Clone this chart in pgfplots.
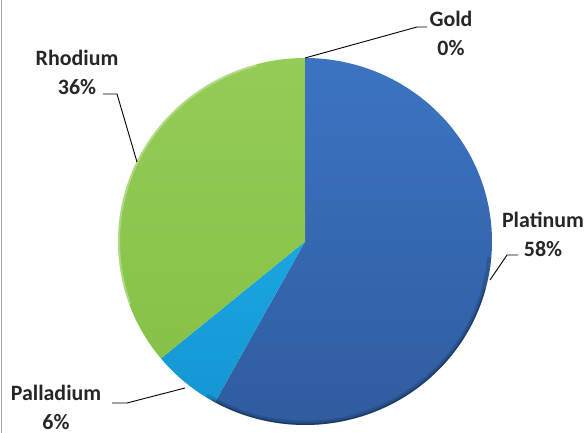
\documentclass[border=0pt]{standalone}
\usepackage{fontspec}
\setmainfont{Carlito}
\usepackage{pgfplots}
\pgfplotsset{compat=1.18}
\definecolor{platlight}{HTML}{3C74C2}
\definecolor{platdark}{HTML}{2F5C9F}
\definecolor{palla}{HTML}{1AA6E2}
\definecolor{pallb}{HTML}{1497D2}
\definecolor{rholight}{HTML}{94CC55}
\definecolor{rhodark}{HTML}{87C248}
\definecolor{txt}{HTML}{262626}
\def\cx{305}\def\cy{191.5}\def\rx{187}\def\ry{183.5}
\tikzset{lbl/.style={font=\fontsize{22}{29}\selectfont\bfseries,text=txt,align=center,inner sep=0pt}}
\begin{document}
\begin{tikzpicture}
\begin{axis}[width=588bp,height=433bp,scale only axis,
  xmin=0,xmax=588,ymin=0,ymax=433,hide axis,clip=false]
% Platinum 58 %
\addplot[draw=none,top color=platlight,bottom color=platdark,domain=0:208.8,samples=150,smooth]
  ({\cx+\rx*sin(x)},{\cy+\ry*cos(x)}) -- (axis cs:\cx,\cy) -- cycle;
% Palladium 6 %
\addplot[draw=none,top color=palla,bottom color=pallb,domain=208.8:230.4,samples=30,smooth]
  ({\cx+\rx*sin(x)},{\cy+\ry*cos(x)}) -- (axis cs:\cx,\cy) -- cycle;
% Rhodium 36 %
\addplot[draw=none,top color=rholight,bottom color=rhodark,domain=230.4:360,samples=100,smooth]
  ({\cx+\rx*sin(x)},{\cy+\ry*cos(x)}) -- (axis cs:\cx,\cy) -- cycle;
% Gold 0 % (no visible slice)
% rim shading
\addplot[draw=black,opacity=0.15,line width=4bp,domain=95:212,samples=80,smooth]
  ({\cx+(\rx-2)*sin(x)},{\cy+(\ry-2)*cos(x)});
\addplot[draw=black,opacity=0.25,line width=1.5bp,domain=105:210,samples=80,smooth]
  ({\cx+(\rx-0.8)*sin(x)},{\cy+(\ry-0.8)*cos(x)});
\addplot[draw=white,opacity=0.3,line width=2bp,domain=250:345,samples=60,smooth]
  ({\cx+(\rx-1)*sin(x)},{\cy+(\ry-1)*cos(x)});
% left border
\draw[color=gray!70,line width=1.2bp] (axis cs:1.2,0) -- (axis cs:1.2,433);
% leader lines
\draw[black,line width=0.9bp] (axis cs:305,375) -- (axis cs:417,406) -- (axis cs:427,406);
\draw[black,line width=0.9bp] (axis cs:103,339) -- (axis cs:117,339) -- (axis cs:137,271);
\draw[black,line width=0.9bp] (axis cs:518,178) -- (axis cs:507,178) -- (axis cs:490,153);
\draw[black,line width=0.9bp] (axis cs:112,30) -- (axis cs:127,30) -- (axis cs:185,45);
% labels
\node[lbl] at (axis cs:451,400) {Gold\\0\%};
\node[lbl] at (axis cs:77,361) {Rhodium\\36\%};
\node[lbl] at (axis cs:543,199) {Platinum\\58\%};
\node[lbl] at (axis cs:56,26) {Palladium\\6\%};
\end{axis}
\pgfresetboundingbox
\useasboundingbox (0,0) rectangle (588bp,433bp);
\end{tikzpicture}
\end{document}
